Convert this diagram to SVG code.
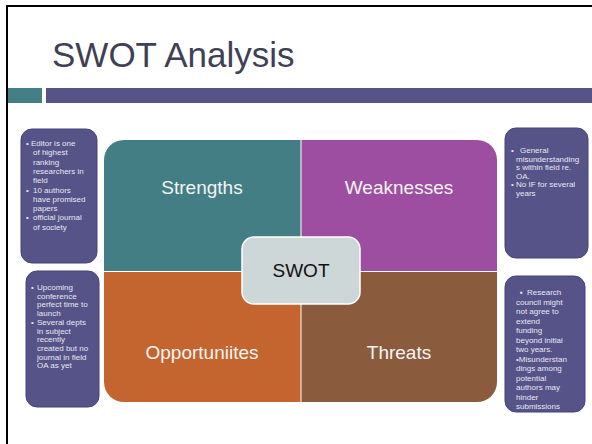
<svg xmlns="http://www.w3.org/2000/svg" width="592" height="444" viewBox="0 0 592 444">
<style>
.note{fill:#555388;stroke:#45447a;stroke-width:1}
.nt{font-family:"Liberation Sans",Arial,sans-serif;font-size:8px;fill:#e8e8f2}
.q{font-family:"Liberation Sans",Arial,sans-serif;font-size:19px;fill:#f4f4f4;text-anchor:middle}
</style>
<rect width="592" height="444" fill="#ffffff"/>
<path d="M7,444 V6 H592" fill="none" stroke="#000" stroke-width="2"/>
<text x="52" y="67" font-family="'Liberation Sans',Arial,sans-serif" font-size="35" fill="#3f3f55">SWOT Analysis</text>
<rect x="8" y="88" width="34" height="15" fill="#437f84"/>
<rect x="46" y="88" width="546" height="15" fill="#555388"/>

<g id="strengths">
<path d="M104,271 V160 A20,20 0 0 1 124,140 H300.5 V271 Z" fill="#437e84"/>
<text class="q" x="202" y="194">Strengths</text>
</g>
<g id="weaknesses">
<path d="M301.5,140 H477 A20,20 0 0 1 497,160 V271 H301.5 Z" fill="#9e4ea0"/>
<text class="q" x="399" y="194">Weaknesses</text>
</g>
<g id="opportunities">
<path d="M104,272 H300.5 V402 H124 A20,20 0 0 1 104,382 Z" fill="#c4652f"/>
<text class="q" x="202" y="359">Opportuniites</text>
</g>
<g id="threats">
<path d="M301.5,272 H497 V382 A20,20 0 0 1 477,402 H301.5 Z" fill="#8a5c3d"/>
<text class="q" x="399" y="359">Threats</text>
</g>
<g id="swot">
<rect x="242" y="237" width="118" height="67" rx="12" fill="#ced7d8" stroke="#ffffff" stroke-width="1.5"/>
<text x="301" y="277" font-family="'Liberation Sans',Arial,sans-serif" font-size="19" fill="#111" text-anchor="middle">SWOT</text>
</g>

<g id="note-strengths">
<rect class="note" x="21" y="129" width="76" height="134" rx="11"/>
<text class="nt"><tspan x="26" y="146">•</tspan><tspan x="31" y="146">Editor is one</tspan><tspan x="33" y="155.3">of highest</tspan><tspan x="33" y="164.6">ranking</tspan><tspan x="33" y="173.9">researchers in</tspan><tspan x="33" y="183.2">field</tspan><tspan x="26" y="192.5">•</tspan><tspan x="33" y="192.5">10 authors</tspan><tspan x="33" y="201.8">have promised</tspan><tspan x="33" y="211.1">papers</tspan><tspan x="26" y="220.4">•</tspan><tspan x="33" y="220.4">official journal</tspan><tspan x="33" y="229.7">of society</tspan></text>
</g>
<g id="note-opportunities">
<rect class="note" x="26" y="271" width="73" height="136" rx="11"/>
<text class="nt"><tspan x="31" y="290">•</tspan><tspan x="37" y="290">Upcoming</tspan><tspan x="37" y="298.7">conference</tspan><tspan x="37" y="307.4">perfect time to</tspan><tspan x="37" y="316.1">launch</tspan><tspan x="31" y="324.8">•</tspan><tspan x="37" y="324.8">Several depts</tspan><tspan x="37" y="333.5">in subject</tspan><tspan x="37" y="342.2">recently</tspan><tspan x="37" y="350.9">created but no</tspan><tspan x="37" y="359.6">journal in field</tspan><tspan x="37" y="368.3">OA as yet</tspan></text>
</g>
<g id="note-weaknesses">
<rect class="note" x="505" y="128" width="83" height="130" rx="11"/>
<text class="nt"><tspan x="511" y="153">•</tspan><tspan x="520" y="153">General</tspan><tspan x="516" y="161.5">misunderstanding</tspan><tspan x="516" y="170">s within  field re.</tspan><tspan x="516" y="178.5">OA.</tspan><tspan x="511" y="187">•</tspan><tspan x="516" y="187">No IF for several</tspan><tspan x="516" y="195.5">years</tspan></text>
</g>
<g id="note-threats">
<rect class="note" x="505" y="276" width="80" height="136" rx="11"/>
<text class="nt"><tspan x="520" y="295">▪</tspan><tspan x="527" y="295">Research</tspan><tspan x="516" y="304.5">council might</tspan><tspan x="516" y="314">not agree to</tspan><tspan x="516" y="323.5">extend</tspan><tspan x="516" y="333">funding</tspan><tspan x="516" y="342.5">beyond initial</tspan><tspan x="516" y="352">two years.</tspan><tspan x="516" y="361.5">•Misunderstan</tspan><tspan x="516" y="371">dings among</tspan><tspan x="516" y="380.5">potential</tspan><tspan x="516" y="390">authors may</tspan><tspan x="516" y="399.5">hinder</tspan><tspan x="516" y="409">submissions</tspan></text>
</g>
</svg>
